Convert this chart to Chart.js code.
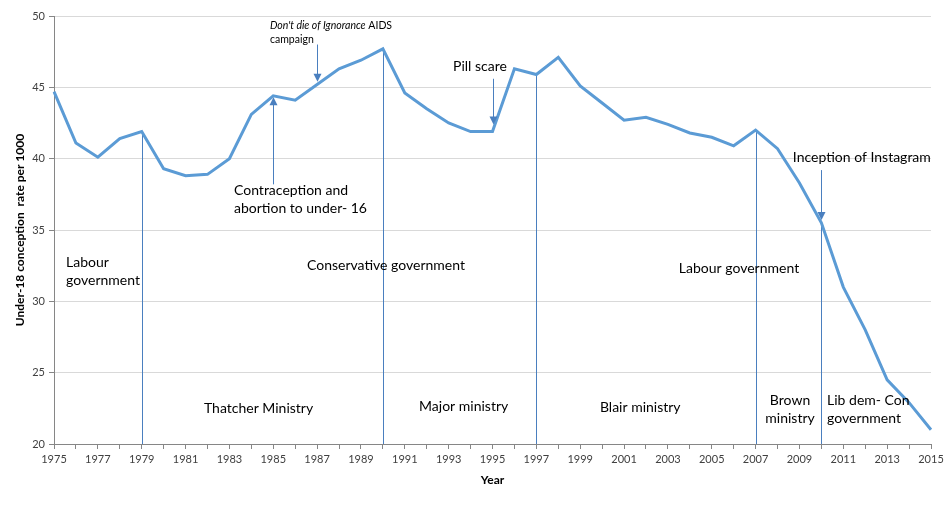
<!DOCTYPE html>
<html>
<head>
<meta charset="utf-8">
<script src="https://cdn.jsdelivr.net/npm/chart.js@4/dist/chart.umd.min.js"></script>
<style>
html,body{margin:0;padding:0;background:#fff;}
#wrap{width:952px;height:512px;position:relative;}
</style>
</head>
<body>
<div id="wrap"><canvas id="c" width="952" height="512"></canvas></div>
<script>
// ---- data ----
const years = ['1975','1976','1977','1978','1979','1980','1981','1982','1983','1984',
  '1985','1986','1987','1988','1989','1990','1991','1992','1993','1994',
  '1995','1996','1997','1998','1999','2000','2001','2002','2003','2004',
  '2005','2006','2007','2008','2009','2010','2011','2012','2013','2014','2015'];
const rates = [44.7,41.1,40.1,41.4,41.9,39.3,38.8,38.9,40.0,43.1,
  44.4,44.1,45.2,46.3,46.9,47.7,44.6,43.5,42.5,41.9,
  41.9,46.3,45.9,47.1,45.1,43.9,42.7,42.9,42.4,41.8,
  41.5,40.9,42.0,40.7,38.3,35.5,31.0,28.0,24.5,22.9,21.0];
const yTicks = [20,25,30,35,40,45,50];
const dividerYears = ['1979','1990','1997','2007','2010'];
const arrowYears = [1985, 1987, 1995, 2010];
const arrowFrom  = [38.2, 48.0, 45.6, 39.2];
const arrowTo    = [44.3, 45.4, 42.4, 35.7];
const noteTexts = [
  ['Labour','government'],
  ['Contraception and','abortion to under- 16'],
  ['Pill scare'],
  ['Conservative government'],
  ['Labour government'],
  ['Inception of Instagram'],
  ['Thatcher Ministry'],
  ['Major ministry'],
  ['Blair ministry'],
  ['Brown','ministry'],
  ['Lib dem- Con','government']
];
const noteYears  = [1975.55, 1983.21, 1993.2, 1986.54, 2003.5, 2008.7, 1981.84, 1991.65, 1999.9, 2008.57, 2010.26];
const noteValues = [32.75, 37.76, 46.43, 32.52, 32.31, 40.07, 22.52, 22.66, 22.59, 23.08, 23.08];
const noteAlign  = ['left','left','left','left','left','left','left','left','left','center','left'];
const aidsYear = 1984.85, aidsValue = 49.3;

const LINE = '#5b9bd5';
const THIN = '#4a7fbf';
const FONT = 'Lato, "Open Sans", sans-serif';

function xOf(scale, year){ return scale.getPixelForValue(year - Number(years[0])); }

const notesPlugin = {
  id: 'notes',
  beforeDatasetsDraw(chart){
    const ctx = chart.ctx, xs = chart.scales.x, ys = chart.scales.y;
    ctx.save();
    ctx.strokeStyle = THIN; ctx.lineWidth = 1;
    dividerYears.forEach(yr => {
      const i = years.indexOf(yr);
      const x = Math.round(xs.getPixelForValue(i)) + 0.5;
      ctx.beginPath();
      ctx.moveTo(x, ys.getPixelForValue(rates[i]));
      ctx.lineTo(x, ys.getPixelForValue(ys.min));
      ctx.stroke();
    });
    ctx.restore();
  },
  afterDatasetsDraw(chart){
    const ctx = chart.ctx, xs = chart.scales.x, ys = chart.scales.y;
    ctx.save();
    // arrows
    ctx.strokeStyle = THIN; ctx.fillStyle = THIN; ctx.lineWidth = 1;
    arrowYears.forEach((yr, k) => {
      const x = Math.round(xOf(xs, yr)) + 0.5;
      const y0 = ys.getPixelForValue(arrowFrom[k]);
      const y1 = ys.getPixelForValue(arrowTo[k]);
      const dir = y1 > y0 ? 1 : -1;
      ctx.beginPath(); ctx.moveTo(x, y0); ctx.lineTo(x, y1 - dir*6); ctx.stroke();
      ctx.beginPath();
      ctx.moveTo(x, y1);
      ctx.lineTo(x - 4, y1 - dir*8);
      ctx.lineTo(x + 4, y1 - dir*8);
      ctx.closePath(); ctx.fill();
    });
    // notes
    ctx.fillStyle = '#000';
    ctx.textBaseline = 'middle';
    ctx.font = '14px ' + FONT;
    noteTexts.forEach((lines, k) => {
      const x = xOf(xs, noteYears[k]);
      const y = ys.getPixelForValue(noteValues[k]);
      ctx.textAlign = noteAlign[k];
      lines.forEach((t, j) => ctx.fillText(t, x, y + j*18));
    });
    // AIDS campaign note (mixed italic)
    const ax = xOf(xs, aidsYear), ay = ys.getPixelForValue(aidsValue);
    ctx.textAlign = 'left';
    ctx.font = 'italic 10.5px ' + FONT;
    const part1 = "Don't die of Ignorance";
    ctx.fillText(part1, ax, ay);
    const w = ctx.measureText(part1).width;
    ctx.font = '10.5px ' + FONT;
    ctx.fillText(' AIDS', ax + w, ay);
    ctx.fillText('campaign', ax, ay + 14);
    ctx.restore();
  }
};

new Chart(document.getElementById('c'), {
  type: 'line',
  data: {
    labels: years,
    datasets: [{
      data: rates,
      borderColor: LINE,
      borderWidth: 3,
      pointRadius: 0,
      tension: 0,
      fill: false
    }]
  },
  options: {
    responsive: false,
    animation: false,
    layout: { padding: { top: 16, right: 21, left: 13, bottom: 21 } },
    plugins: { legend: { display: false }, tooltip: { enabled: false } },
    scales: {
      x: {
        type: 'category',
        offset: false,
        afterFit(s){ s.height = 47; },
        grid: { drawOnChartArea: false, drawTicks: true, tickLength: 5, tickColor: '#868686', offset: false },
        border: { color: '#868686', width: 1 },
        ticks: {
          autoSkip: false, maxRotation: 0, minRotation: 0, padding: 4,
          color: '#404040', font: { family: FONT, size: 11 },
          callback(v, i){ return (i % 2 === 0) ? years[i] : ''; }
        },
        title: { display: true, text: 'Year', color: '#000', font: { family: FONT, size: 12, weight: 'bold' }, padding: { top: 4 } }
      },
      y: {
        min: yTicks[0], max: yTicks[yTicks.length-1],
        afterFit(s){ s.width = 41; },
        afterBuildTicks(s){ s.ticks = yTicks.map(v => ({ value: v })); },
        grid: { color: '#d9d9d9', tickColor: '#868686', tickLength: 5, drawTicks: true },
        border: { color: '#868686', width: 1 },
        ticks: { color: '#404040', padding: 4, font: { family: FONT, size: 11 } },
        title: { display: true, text: 'Under-18 conception  rate per 1000', color: '#000', font: { family: FONT, size: 12, weight: 'bold' }, padding: { top: 0, bottom: 4 } }
      }
    }
  },
  plugins: [notesPlugin]
});
</script>
</body>
</html>
